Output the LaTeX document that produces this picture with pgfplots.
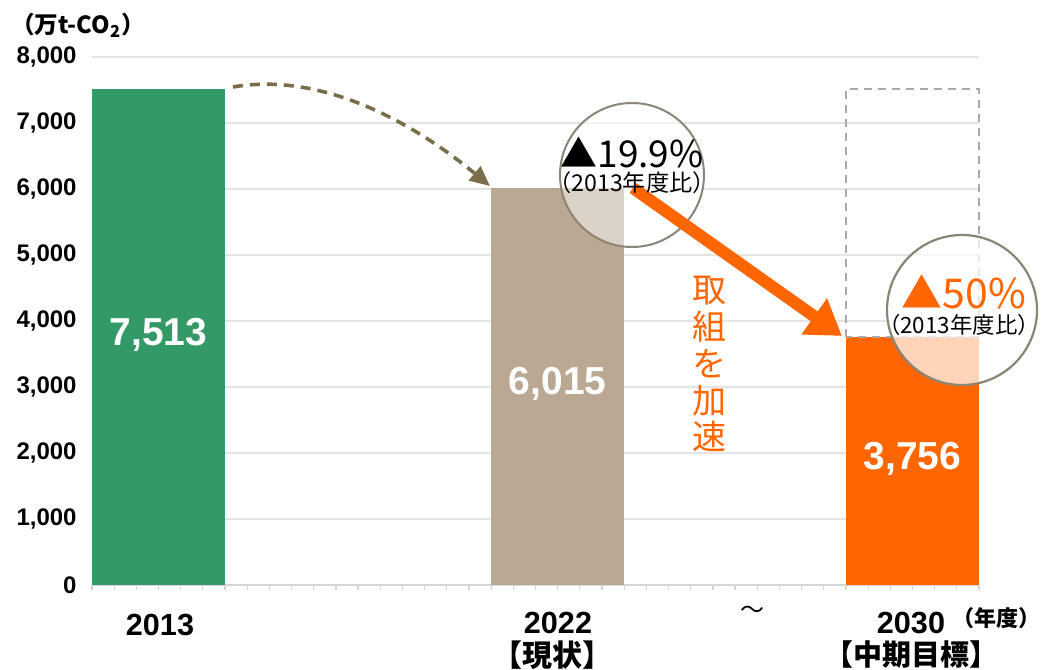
\documentclass[border=0pt]{standalone}
\usepackage{fontspec}
\setmainfont{Liberation Sans}
\newfontfamily\jp{Noto Sans CJK JP}
\usepackage{pgfplots}
\pgfplotsset{compat=1.18}
\usetikzlibrary{arrows.meta}

\definecolor{barGreen}{HTML}{339966}
\definecolor{barTan}{HTML}{BAA892}
\definecolor{barOrange}{HTML}{FF6600}
\definecolor{arrowBrown}{HTML}{7A6E4A}
\definecolor{ringGray}{HTML}{8C8474}
\definecolor{boxGray}{HTML}{A9A9A9}
\definecolor{gridGray}{HTML}{E4E4E4}
\definecolor{axisGray}{HTML}{D6D6D6}

\begin{document}
\begin{tikzpicture}
\useasboundingbox (0,0) rectangle (520.5pt,335pt);
\begin{axis}[
  at={(46pt,42.5pt)}, anchor=south west,
  scale only axis, width=443.5pt, height=264pt,
  xmin=0, xmax=40, ymin=0, ymax=8000,
  clip=false,
  axis x line*=bottom, axis y line*=left,
  x axis line style={-, draw=axisGray, line width=0.8pt},
  y axis line style={draw=none},
  xtick={0,1,...,40}, xticklabels={},
  tick align=outside, major tick length=2.5pt,
  xtick style={draw=axisGray, line width=0.6pt},
  ytick={0,1000,...,8000}, ytick style={draw=none},
  ymajorgrids, grid style={draw=gridGray, line width=0.7pt},
  yticklabel style={font=\bfseries\fontsize{12}{14}\selectfont, inner sep=0pt, anchor=east, xshift=-5pt},
  /pgf/number format/assume math mode=true,
  /pgf/number format/1000 sep={,},
]
% 2013, 2022 (current), 2030 (mid-term target)
\addplot[ybar, bar width=6, bar shift=0pt, fill=barGreen, draw=none] coordinates {(3,7513)};
\addplot[ybar, bar width=6, bar shift=0pt, fill=barTan, draw=none] coordinates {(21,6015)};
\addplot[ybar, bar width=6, bar shift=0pt, fill=barOrange, draw=none] coordinates {(37,3756)};
% outline of the 2013 level above the 2030 bar
\addplot[sharp plot, no marks, draw=boxGray, line width=1pt, dash pattern=on 4pt off 3pt]
  coordinates {(34,3756) (34,7513) (40,7513) (40,3756) (34,3756)};

\node[text=white, font=\bfseries\fontsize{19.5}{22}\selectfont] at (axis cs:3,3790) {7,513};
\node[text=white, font=\bfseries\fontsize{19.5}{22}\selectfont] at (axis cs:21,3040) {6,015};
\node[text=white, font=\bfseries\fontsize{19.5}{22}\selectfont] at (axis cs:37,1910) {3,756};
\end{axis}

% annotations, in pixel coordinates of the reference
\begin{scope}[shift={(0pt,335pt)}, x=0.5pt, y=-0.5pt]
  \fill[white, opacity=0.5] (632,175) circle[radius=36pt];
  \draw[ringGray, line width=1pt] (632,175) circle[radius=36pt];
  \fill[white, opacity=0.72] (962,310) circle[radius=37.5pt];
  \draw[ringGray, line width=1.1pt] (962,310) circle[radius=37.5pt];

  \draw[arrowBrown, line width=1.8pt, dash pattern=on 5pt off 3.5pt, -{Triangle[length=10pt,width=9pt]}]
    (233,87) .. controls (320,72) and (410,120) .. (490,186);
  \draw[barOrange, line width=6pt, -{Triangle[length=17pt,width=21pt]}] (633,188) -- (842,336);

  \node[font=\jp\fontsize{18.5}{20}\selectfont] at (632,152) {▲19.9\%};
  \node[font=\jp\fontsize{11.6}{13}\selectfont, inner sep=0pt] at (632,183) {（2013年度比）};
  \node[text=barOrange, font=\jp\fontsize{20.5}{22}\selectfont] at (964,292) {▲50\%};
  \node[font=\jp\fontsize{11.2}{13}\selectfont, inner sep=0pt] at (959,325) {（2013年度比）};

  \node[text=barOrange, font=\jp\fontsize{17}{18.5}\selectfont, align=center, inner sep=0pt]
    at (709,364) {取\\組\\を\\加\\速};

  \node[font=\bfseries\fontsize{15.3}{18}\selectfont] at (160,625) {2013};
  \node[font=\bfseries\fontsize{15.3}{18}\selectfont] at (558,623) {2022};
  \node[font=\bfseries\fontsize{15.3}{18}\selectfont] at (911,623) {2030};
  \node[font=\jp\bfseries\fontsize{15}{17}\selectfont] at (552,655) {【現状】};
  \node[font=\jp\bfseries\fontsize{14.5}{17}\selectfont] at (911,655) {【中期目標】};
  \node[font=\jp\fontsize{12}{14}\selectfont] at (752,612) {～};
  \node[font=\jp\bfseries\fontsize{11}{13}\selectfont, inner sep=0pt] at (996,618) {（年度）};
  \node[font=\jp\bfseries\fontsize{11.8}{14}\selectfont] at (78,25) {（万t-CO\textsubscript{2}）};
\end{scope}
\end{tikzpicture}
\end{document}
